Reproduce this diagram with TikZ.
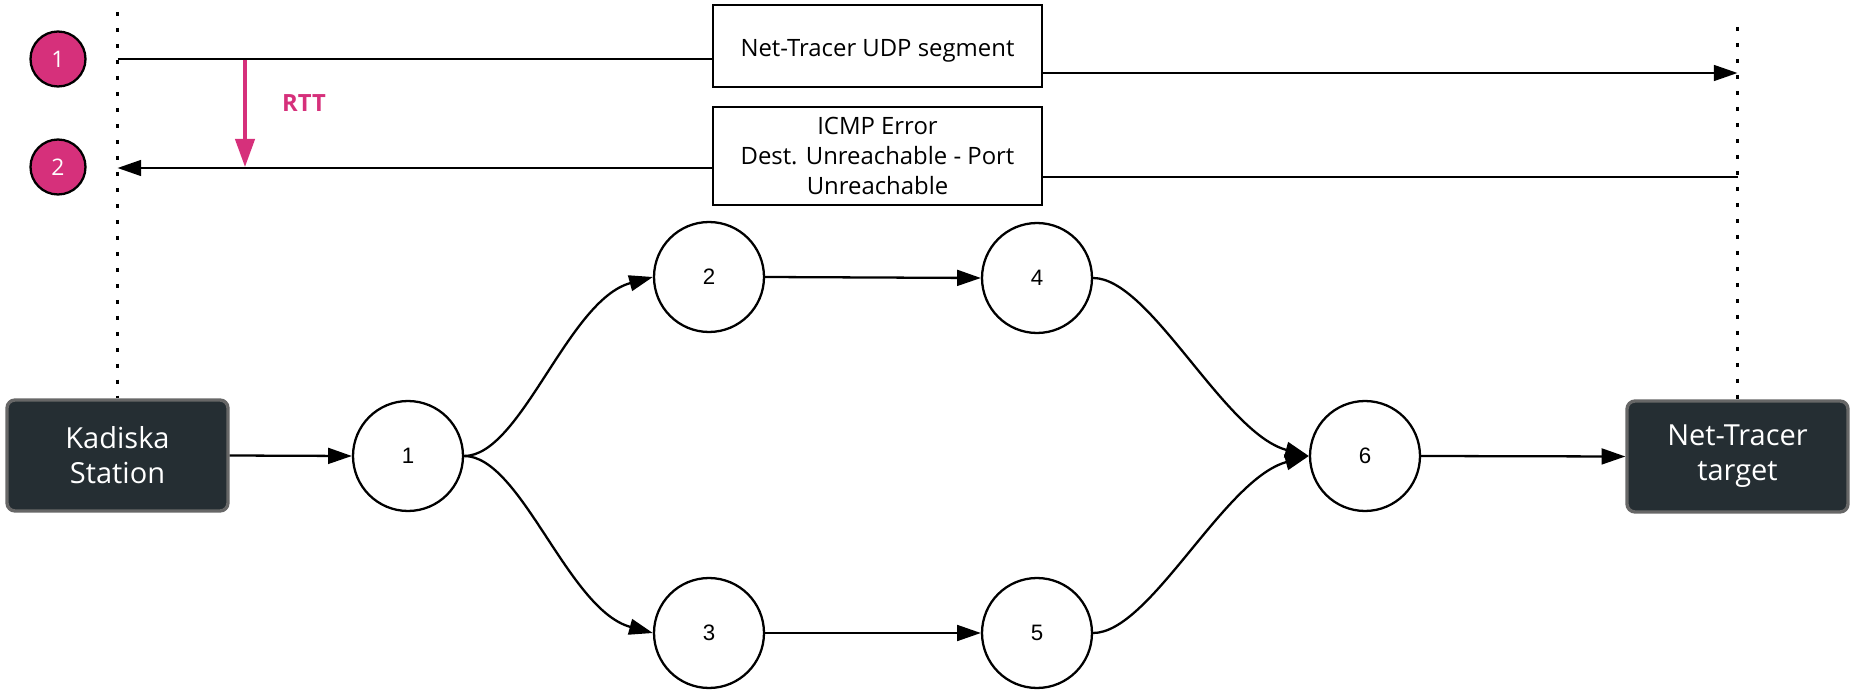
\documentclass[tikz,border=0pt]{standalone}
\usepackage{fontspec}
\setmainfont{Open Sans}
\newfontfamily\numfont{Liberation Sans}
\usetikzlibrary{arrows.meta}
\definecolor{pinkc}{HTML}{D6307B}
\definecolor{darkbox}{HTML}{252E33}
\definecolor{boxborder}{HTML}{676767}
\begin{document}
\begin{tikzpicture}[x=0.02cm,y=-0.02cm,
  line width=1.3pt,
  >={Triangle[length=13.5pt,width=9pt]},
  hop/.style={circle,draw,line width=1.3pt,minimum size=2.2cm,inner sep=0pt,font=\numfont\fontsize{12.7}{15}\selectfont},
  endbox/.style={draw=boxborder,line width=1.9pt,fill=darkbox,rounded corners=0.16cm,minimum width=4.42cm,minimum height=2.22cm,text=white,align=center,font=\fontsize{16.5}{20}\selectfont},
  msgbox/.style={draw,fill=white,line width=1.3pt,minimum width=6.58cm,align=center,font=\fontsize{13.6}{17}\selectfont},
  stepc/.style={circle,draw,fill=pinkc,line width=1.3pt,minimum size=1.1cm,inner sep=0pt,text=white,font=\fontsize{13}{15}\selectfont},
  lifeline/.style={line width=1.5pt,dash pattern=on 2.5pt off 6.6pt},
]
\useasboundingbox (0,0) rectangle (1852,692);

% end boxes
\node[endbox] (kad) at (117.5,455.5) {Kadiska\\Station};
\node[endbox] (tgt) at (1737.5,456.5) {Net-Tracer\\target};

% hop nodes
\node[hop] (n1) at (408,456) {1};
\node[hop] (n2) at (709,277) {2};
\node[hop] (n3) at (709,633) {3};
\node[hop] (n4) at (1037,278) {4};
\node[hop] (n5) at (1037,633) {5};
\node[hop] (n6) at (1365,456) {6};

% lifelines
\coordinate (lt) at (117.5,12);
\coordinate (rt) at (1737.5,27);
\draw[lifeline] (lt) -- (kad.north);
\draw[lifeline] (rt) -- (tgt.north);

% message boxes
\node[msgbox,minimum height=1.64cm,text height=12pt,text depth=0pt] (msg1) at (877.5,46) {Net-Tracer UDP segment};
\node[msgbox,minimum height=1.96cm] (msg2) at (877.5,156) {ICMP Error\\Dest. Unreachable - Port\\Unreachable};

% message lines
\coordinate (m1s) at (117.5,59);
\coordinate (m1e) at (1737.5,73);
\coordinate (m2s) at (1737.5,177);
\coordinate (m2e) at (117.5,168);
\draw (m1s) -- (msg1.west |- m1s);
\draw[->] (msg1.east |- m1e) -- (m1e);
\draw (m2s) -- (msg2.east |- m2s);
\draw[->] (msg2.west |- m2e) -- (m2e);

% step circles
\node[stepc] (c1) at (58,59) {1};
\node[stepc] (c2) at (58,167) {2};

% RTT
\coordinate (rtta) at (245,60);
\coordinate (rttb) at (245,167);
\draw[pinkc,line width=2pt,-{Triangle[length=16pt,width=11pt]}] (rtta) -- (rttb);
\node[text=pinkc,font=\bfseries\fontsize{13.5}{15}\selectfont] (rtt) at (304,103) {RTT};

% path edges
\draw[->] (kad.east) -- (n1.west);
\draw[->] (n1.east) .. controls +(57,0) and +(-85,23) .. (n2.west);
\draw[->] (n1.east) .. controls +(57,0) and +(-85,-23) .. (n3.west);
\draw[->] (n2.east) -- (n4.west);
\draw[->] (n3.east) -- (n5.west);
\draw[->] (n4.east) .. controls +(57,0) and +(-85,-23) .. (n6.west);
\draw[->] (n5.east) .. controls +(57,0) and +(-85,23) .. (n6.west);
\draw[->] (n6.east) -- (tgt.west);
\end{tikzpicture}
\end{document}
